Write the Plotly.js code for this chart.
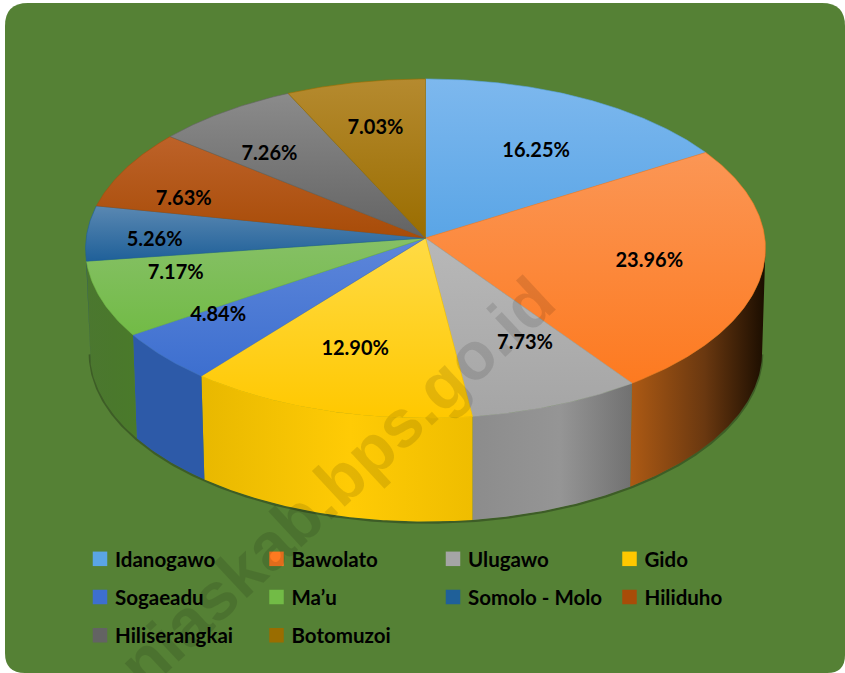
<!DOCTYPE html>
<html><head><meta charset="utf-8">
<script src="https://cdn.plot.ly/plotly-3.0.1.min.js"></script>
<style>html,body{margin:0;padding:0;background:#fff}#c{width:845px;height:673px}</style>
</head><body><div id="c"></div>
<script>
const categories = ['Idanogawo','Bawolato','Ulugawo','Gido','Sogaeadu','Ma’u','Somolo - Molo','Hiliduho','Hiliserangkai','Botomuzoi'];
const shares = [16.25,23.96,7.73,12.90,4.84,7.17,5.26,7.63,7.26,7.03];
const topLight = ['#7db8ee','#fb9655','#b8b8b8','#ffdb45','#5d86da','#86c066','#5a88b2','#bd6229','#8b8b8b','#b58a2f'];
const topDark  = ['#5aa5e6','#fd7a20','#a5a5a5','#ffc800','#3d6fcf','#72bb46','#1f6099','#a84c08','#636363','#9a6d00'];
const wallScale = [
  ['#333','#333','#333'],['#ad5a14','#6a3810','#1a0d00'],['#8c8c8c','#959595','#717171'],['#e8b800','#ffcb05','#efbd00'],['#2d5aa8','#2d5aa8','#2d5aa8'],
  ['#4b772f','#4a782c','#4a7a2a'],['#1f4a6e','#1f4a6e','#1f4a6e'],['#333','#333','#333'],['#333','#333','#333'],['#333','#333','#333']];
const labelRadius = [.635,.667,.657,.657,.739,.754,.798,.762,.703,.702];
const labelTurn = [2.8,-.4,-4.1,1.9,5.9,5.4,-2.1,-6.5,-4.1,0];
const legendRow = [1,1,1,1,2,2,2,2,3,3];

// pie geometry: a tilted disc seen in perspective
const persp = .0619, topG = {x0:425.5,y0:238,A:339.3,B:168.9}, botG = {x0:426,y0:341.5,A:335.5,B:168.9};
const rad = d => d*Math.PI/180;
function proj(deg, g, r=1){
  const u = r*Math.sin(rad(deg)), v = -r*Math.cos(rad(deg)), w = 1 - persp*v;
  return [g.x0 + g.A*u/w, g.y0 + g.B*v/w];
}
const total = shares.reduce((a,b)=>a+b,0);
let acc = 0;
const spans = shares.map(s => { const a = acc/total*360; acc += s; return [a, acc/total*360]; });
function arc(a,b,g){ const n = Math.max(2,Math.ceil(Math.abs(b-a))*2), p=[];
  for(let i=0;i<=n;i++) p.push(proj(a+(b-a)*i/n,g)); return p; }

const traces = [];
const noHover = {hoverinfo:'skip', showlegend:false, cliponaxis:false};
// shadow below the rim
const rim = arc(94,266,botG);
traces.push({x:rim.map(p=>p[0]),y:rim.map(p=>p[1]+1),mode:'lines',line:{color:'rgba(0,0,0,.28)',width:2.5},...noHover});
// side walls
spans.forEach((s,i)=>{
  const a = Math.max(s[0],93.5), b = Math.min(s[1],266.5);
  if(b<=a) return;
  const pts = arc(a,b,topG).concat(arc(a,b,botG).reverse());
  const w = wallScale[i];
  traces.push({x:pts.map(p=>p[0]).concat(pts[0][0]),y:pts.map(p=>p[1]).concat(pts[0][1]),mode:'lines',
    line:{width:0},fill:'toself',
    fillgradient:{type:'horizontal',colorscale:[[0,w[0]],[.55,w[1]],[1,w[2]]]},...noHover});
});
// top faces
spans.forEach((s,i)=>{
  const pts = [[topG.x0,topG.y0]].concat(arc(s[0],s[1],topG)); pts.push(pts[0]);
  traces.push({x:pts.map(p=>p[0]),y:pts.map(p=>p[1]),mode:'lines',line:{width:.6,color:topDark[i]},fill:'toself',
    fillgradient:{type:'vertical',colorscale:[[0,topDark[i]],[1,topLight[i]]]},...noHover});
});
// value labels
const lab = spans.map((s,i)=>proj((s[0]+s[1])/2+labelTurn[i],topG,labelRadius[i]));
traces.push({x:lab.map(p=>p[0]),y:lab.map(p=>p[1]+2),mode:'text',text:shares.map(v=>v.toFixed(2)+'%'),
  textposition:'middle center',textfont:{family:'Lato, Carlito, sans-serif',size:20,color:'#000',weight:700},...noHover});
// legend entries
categories.forEach((c,i)=>{
  traces.push({x:[null],y:[null],name:c,mode:'markers',legend:legendRow[i]===1?'legend':'legend'+legendRow[i],
    marker:{symbol:'square',size:14.5,color:topDark[i]},hoverinfo:'skip',showlegend:true});
});
const legendBase = r => ({orientation:'h',x:75/845,xanchor:'left',y:1-(559+(r-1)*38.2)/673,yanchor:'middle',
  entrywidth:131.5,entrywidthmode:'pixels',itemclick:false,itemdoubleclick:false,bgcolor:'rgba(0,0,0,0)',borderwidth:0,
  font:{family:'Lato, Carlito, sans-serif',size:20.5,color:'#000',weight:700},traceorder:'normal',itemsizing:'trace'});

const layout = {
  width:845,height:673,margin:{l:0,r:0,t:0,b:0},paper_bgcolor:'#fff',plot_bgcolor:'rgba(0,0,0,0)',
  xaxis:{range:[0,845],visible:false,fixedrange:true},
  yaxis:{range:[673,0],visible:false,fixedrange:true},
  legend:legendBase(1),legend2:legendBase(2),legend3:legendBase(3),
  shapes:[{type:'path',layer:'below',xref:'x',yref:'y',line:{width:0},fillcolor:'#558135',
    path:'M5 26 Q5 3 28 3 L822 3 Q845 3 845 26 L845 655 Q845 673 827 673 L25 673 Q5 673 5 653 Z'}],
  annotations:[{xref:'x',yref:'y',x:336,y:482,text:'niaskab.bps.go.id',showarrow:false,textangle:-43,
    font:{family:'Liberation Sans, Arial, sans-serif',size:67,color:'rgba(0,0,0,.11)',weight:700}}],
  hovermode:false,showlegend:true
};
Plotly.newPlot('c',traces,layout,{staticPlot:true,displayModeBar:false}).then(gd=>{
  gd.querySelectorAll('.legendsymbols').forEach(g=>g.setAttribute('transform','translate(5,0)'));
});
</script></body></html>
